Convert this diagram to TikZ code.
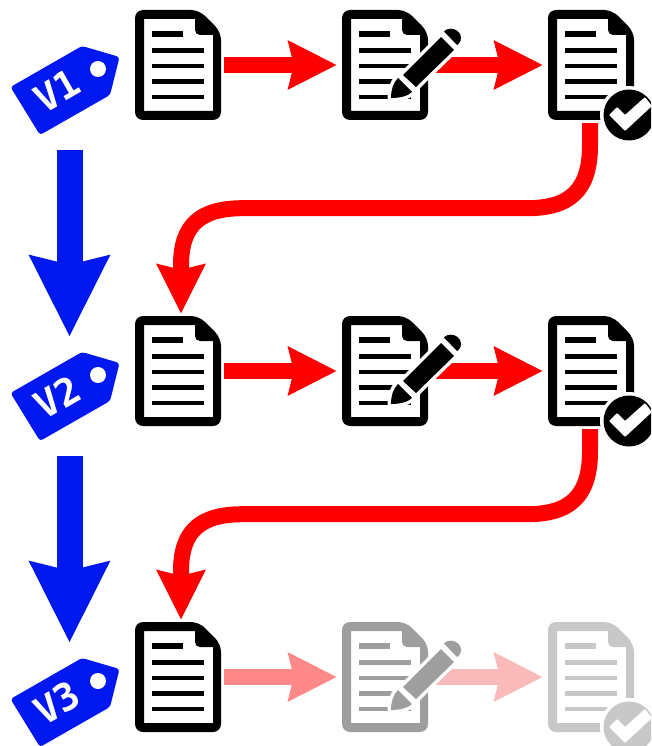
\documentclass[tikz,border=0pt]{standalone}
\usepackage{fontspec}
\setmainfont{Open Sans}
\newfontfamily\tagfont{DejaVu Sans Mono}
\usetikzlibrary{arrows.meta}
\definecolor{tagblue}{RGB}{0,24,240}
\definecolor{arrowred}{RGB}{255,0,0}
\definecolor{arrowfadeA}{RGB}{255,136,136}
\definecolor{arrowfadeB}{RGB}{251,186,186}
\definecolor{docfadeA}{RGB}{158,158,158}
\definecolor{docfadeB}{RGB}{200,200,200}
\tikzset{
  docbox/.style={inner sep=0pt,minimum width=86pt,minimum height=110pt},
  tagbox/.style={inner sep=0pt,minimum width=108pt,minimum height=89pt},
  flowarrow/.style={line width=16pt,-{Stealth[length=48pt,width=47pt,inset=5pt]},shorten <=3pt,shorten >=5pt},
  versionarrow/.style={draw=tagblue,line width=26pt,-{Stealth[length=80pt,width=77pt,inset=8pt]},shorten <=15pt,shorten >=15pt},
  longarrow/.style={draw=arrowred,line width=16pt,-{Stealth[length=49pt,width=47pt,inset=5pt]}},
  taglabel/.style={text=white,font=\tagfont\bfseries\fontsize{38}{38}\selectfont,rotate=30,inner sep=0pt},
  halo/.style={draw=white,fill=white,line width=7pt,line join=round}
}
% outline, fold and text lines of a page
\newcommand{\PageShape}[3]{%
  \begin{scope}[shift={(#1,#2)}]
    \fill[#3,even odd rule,rounded corners=8pt] (0,0) -- (64,0) -- (86,22) -- (86,110) -- (0,110) -- cycle
      [sharp corners] (9,9) -- (60,9) [rounded corners=5pt] -- (60,25) [sharp corners] -- (78,25) -- (78,101) -- (9,101) -- cycle;
    \fill[#3] (17,20.6) rectangle (48,27.4);
    \foreach \ly in {40.7,56,71.3,87}{\fill[#3] (17,{\ly-2.3}) rectangle (69,{\ly+2.3});}
  \end{scope}}
\newcommand{\PencilPaths}[1]{%
  \path[#1] (61,65) -- (74,77) -- (112,40) -- (99,27) -- cycle;
  \path[#1] (102,21.5) -- (115,35) -- (116.5,34) .. controls (120,31) and (120,24) .. (115.5,21) .. controls (112,18) and (106,18) .. (103,20.5) -- cycle;
  \path[#1] (56,68) -- (70,82) .. controls (66,86) and (58,88) .. (49,88) .. controls (49,80) and (51,73) .. (56,68) -- cycle;}
\newcommand{\PencilShape}[3]{%
  \begin{scope}[shift={(#1,#2)}]
    \PencilPaths{halo}
    \PencilPaths{fill=#3}
  \end{scope}}
\newcommand{\BadgeShape}[3]{%
  \begin{scope}[shift={(#1,#2)}]
    \fill[white] (81,105) circle (29);
    \fill[#3] (81,105) circle (25.5);
    \fill[white,rounded corners=1pt] (61,105) -- (69,97) -- (77,105) -- (97,87) -- (104,96) -- (77,121) -- cycle;
  \end{scope}}
\newcommand{\TagShape}[4]{%
  \node[tagbox] (#1) at (69.5,{90.5+#2}) {};
  \begin{scope}[shift={(0,#2)}]
    \fill[tagblue,rounded corners=3pt] (10.5,87) -- (82,46) -- (119.5,57) -- (110,95) -- (40,135) -- cycle;
    \fill[white] (98,69) circle (8);
    \node[taglabel] (#3) at (57,91) {#4};
  \end{scope}}
\newcommand{\LongArrow}[2]{%
  \draw[longarrow] ([shift={(-1,3)}]#1.south) -- ++(0,22)
    .. controls +(0,45) and +(43,0) .. ++(-63,63) -- ++(-284,0)
    .. controls +(-43,0) and +(0,-40) .. ++(-62,57)
    -- ([shift={(3,-2)}]#2.north);}
\begin{document}
\begin{tikzpicture}[x=1pt,y=-1pt]
\useasboundingbox (0,0) rectangle (651,746);
\clip (0,0) rectangle (651,746);
% page nodes
\node[docbox] (a1) at (178,65) {};
\node[docbox] (b1) at (385,65) {};
\node[docbox] (c1) at (591,65) {};
\node[docbox] (a2) at (178,371) {};
\node[docbox] (b2) at (385,371) {};
\node[docbox] (c2) at (591,371) {};
\node[docbox] (a3) at (178,677) {};
\node[docbox] (b3) at (385,677) {};
\node[docbox] (c3) at (591,677) {};
% tags
\TagShape{t1}{0}{l1}{V1}
\TagShape{t2}{306}{l2}{V2}
\TagShape{t3}{612}{l3}{V3}
% connectors
\draw[versionarrow] (t1.south) -- (t2.north);
\draw[versionarrow] (t2.south) -- (t3.north);
\draw[flowarrow,draw=arrowred] (a1.east) -- (b1.west);
\draw[flowarrow,draw=arrowred] (b1.east) -- (c1.west);
\draw[flowarrow,draw=arrowred] (a2.east) -- (b2.west);
\draw[flowarrow,draw=arrowred] (b2.east) -- (c2.west);
\draw[flowarrow,draw=arrowfadeA] (a3.east) -- (b3.west);
\draw[flowarrow,draw=arrowfadeB] (b3.east) -- (c3.west);
\LongArrow{c1}{a2}
\LongArrow{c2}{a3}
% icons
\PageShape{135}{10}{black}
\PageShape{342}{10}{black}
\PencilShape{342}{10}{black}
\PageShape{548}{10}{black}
\BadgeShape{548}{10}{black}
\PageShape{135}{316}{black}
\PageShape{342}{316}{black}
\PencilShape{342}{316}{black}
\PageShape{548}{316}{black}
\BadgeShape{548}{316}{black}
\PageShape{135}{622}{black}
\PageShape{342}{622}{docfadeA}
\PencilShape{342}{622}{docfadeA}
\PageShape{548}{622}{docfadeB}
\BadgeShape{548}{622}{docfadeB}
\end{tikzpicture}
\end{document}
